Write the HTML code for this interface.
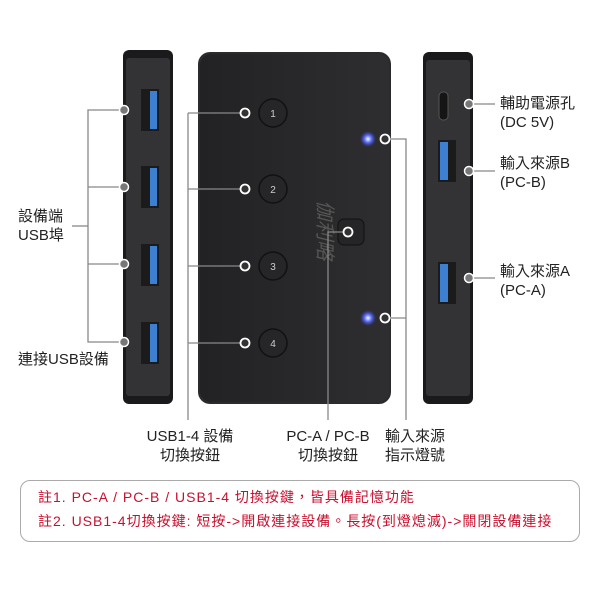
<!DOCTYPE html>
<html><head><meta charset="utf-8"><style>
body{margin:0;width:600px;height:600px;background:#fff;overflow:hidden;font-family:"Liberation Sans","Noto Sans CJK TC",sans-serif;position:relative}
.t{position:absolute;font-size:15px;color:#222;line-height:19px}
.note{position:absolute;left:20px;top:480px;width:558px;height:60px;border:1px solid #aaa;border-radius:10px}
.n{position:absolute;left:38px;font-size:14px;color:#c8102e;letter-spacing:1px;white-space:nowrap}
</style></head><body>
<svg width="600" height="600" style="position:absolute;left:0;top:0">
<defs><linearGradient id="g" x1="0" x2="1"><stop offset="0" stop-color="#222224"/><stop offset="1" stop-color="#2e2e30"/></linearGradient>
<radialGradient id="led"><stop offset="0" stop-color="#fff"/><stop offset="0.4" stop-color="#6a7cff"/><stop offset="1" stop-color="#3040ff" stop-opacity="0"/></radialGradient></defs>
<rect x="123" y="50" width="50" height="354" rx="6" fill="#1a1a1c"/>
<rect x="126" y="58" width="44" height="338" rx="3" fill="#333335"/>
<g fill="#1b1b1b"><rect x="141" y="89" width="18" height="42"/><rect x="141" y="166" width="18" height="42"/><rect x="141" y="244" width="18" height="42"/><rect x="141" y="322" width="18" height="42"/></g>
<g fill="#3d7fd0"><rect x="150" y="91" width="7" height="38"/><rect x="150" y="168" width="7" height="38"/><rect x="150" y="246" width="7" height="38"/><rect x="150" y="324" width="7" height="38"/></g>
<rect x="198" y="52" width="193" height="352" rx="12" fill="#2b2b2d"/>
<rect x="200" y="54" width="189" height="348" rx="11" fill="url(#g)"/>
<g fill="#262628" stroke="#111" stroke-width="1.5"><circle cx="273" cy="113" r="14"/><circle cx="273" cy="189" r="14"/><circle cx="273" cy="266" r="14"/><circle cx="273" cy="343" r="14"/></g>
<g fill="#ccc" font-size="10" text-anchor="middle" font-family="Liberation Sans"><text x="273" y="117">1</text><text x="273" y="193">2</text><text x="273" y="270">3</text><text x="273" y="347">4</text></g>
<rect x="338" y="219" width="26" height="26" rx="6" fill="#252527" stroke="#111"/>
<text x="318" y="200" fill="#555" font-size="20" transform="rotate(90 318 200)" font-style="italic">伽利略</text>
<circle cx="368" cy="139" r="8" fill="url(#led)"/><circle cx="368" cy="318" r="8" fill="url(#led)"/>
<rect x="423" y="52" width="50" height="352" rx="6" fill="#1a1a1c"/>
<rect x="426" y="60" width="44" height="336" rx="3" fill="#333335"/>
<rect x="439" y="92" width="9" height="28" rx="4" fill="#151515" stroke="#555"/>
<rect x="438" y="140" width="18" height="42" fill="#1b1b1b"/><rect x="440" y="142" width="8" height="38" fill="#3d7fd0"/>
<rect x="438" y="262" width="18" height="42" fill="#1b1b1b"/><rect x="440" y="264" width="8" height="38" fill="#3d7fd0"/>
<g stroke="#888" stroke-width="1.3" fill="none">
<polyline points="124,110 88,110 88,342 124,342"/><line x1="88" y1="187" x2="124" y2="187"/><line x1="88" y1="264" x2="124" y2="264"/><line x1="72" y1="226" x2="88" y2="226"/>
<line x1="188" y1="113" x2="188" y2="420"/><line x1="188" y1="113" x2="245" y2="113"/><line x1="188" y1="189" x2="245" y2="189"/><line x1="188" y1="266" x2="245" y2="266"/><line x1="188" y1="343" x2="245" y2="343"/>
<polyline points="348,232 328,232 328,420"/>
<polyline points="385,139 406,139 406,420"/><line x1="385" y1="318" x2="406" y2="318"/>
<line x1="469" y1="104" x2="495" y2="104"/><line x1="469" y1="171" x2="495" y2="171"/><line x1="469" y1="278" x2="495" y2="278"/>
</g>
<g fill="#777" stroke="#fff" stroke-width="1.5"><circle cx="124" cy="110" r="4.5"/><circle cx="124" cy="187" r="4.5"/><circle cx="124" cy="264" r="4.5"/><circle cx="124" cy="342" r="4.5"/>
<circle cx="469" cy="104" r="4.5"/><circle cx="469" cy="171" r="4.5"/><circle cx="469" cy="278" r="4.5"/></g>
<g fill="#333" stroke="#fff" stroke-width="1.8"><circle cx="245" cy="113" r="4.5"/><circle cx="245" cy="189" r="4.5"/><circle cx="245" cy="266" r="4.5"/><circle cx="245" cy="343" r="4.5"/><circle cx="348" cy="232" r="4.5"/><circle cx="385" cy="139" r="4.5"/><circle cx="385" cy="318" r="4.5"/></g>
</svg>
<div class="t" style="left:18px;top:207px">設備端<br>USB埠</div>
<div class="t" style="left:18px;top:350px">連接USB設備</div>
<div class="t" style="left:500px;top:94px">輔助電源孔<br>(DC 5V)</div>
<div class="t" style="left:500px;top:154px">輸入來源B<br>(PC-B)</div>
<div class="t" style="left:500px;top:262px">輸入來源A<br>(PC-A)</div>
<div class="t" style="left:135px;top:427px;width:110px;text-align:center">USB1-4 設備<br>切換按鈕</div>
<div class="t" style="left:275px;top:427px;width:106px;text-align:center">PC-A / PC-B<br>切換按鈕</div>
<div class="t" style="left:375px;top:427px;width:80px;text-align:center">輸入來源<br>指示燈號</div>
<div class="note"></div>
<div class="n" style="top:487px">註1. PC-A / PC-B / USB1-4 切換按鍵，皆具備記憶功能</div>
<div class="n" style="top:511px">註2. USB1-4切換按鍵: 短按->開啟連接設備。長按(到燈熄滅)->關閉設備連接</div>
</body></html>
